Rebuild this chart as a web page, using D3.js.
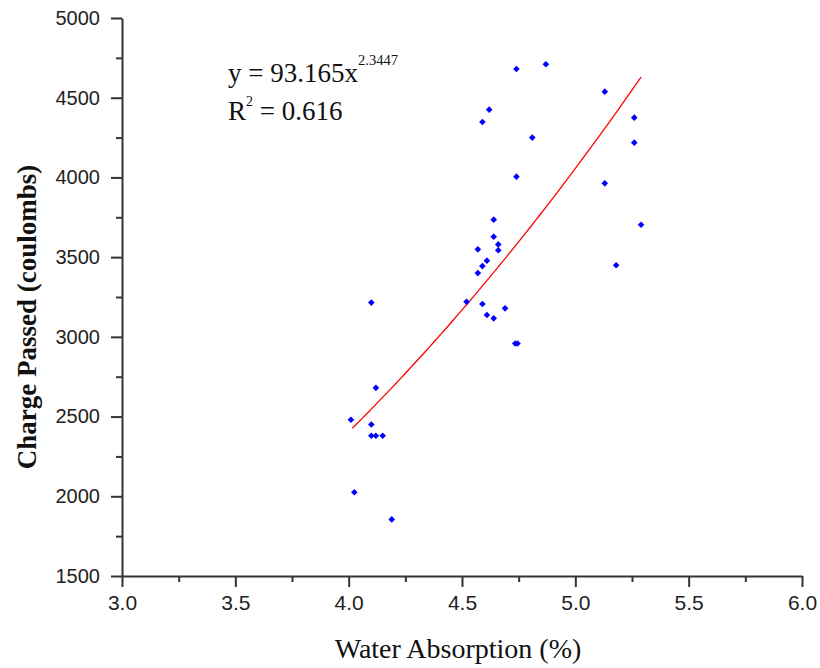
<!DOCTYPE html>
<html>
<head>
<meta charset="utf-8">
<script src="https://cdn.jsdelivr.net/npm/d3@7"></script>
<style>
  html, body { margin: 0; padding: 0; background: #fff; }
  svg { display: block; }
</style>
</head>
<body>
<script>
// ---- data ----
const waterAbsorption = [4.10, 4.12, 4.01, 4.10, 4.10, 4.12, 4.15, 4.025, 4.19,
  4.74, 4.87, 4.62, 4.59, 4.81, 4.74, 4.64, 4.64, 4.66, 4.66, 4.57, 4.61, 4.59, 4.57,
  4.52, 4.59, 4.69, 4.61, 4.64, 4.735, 4.745,
  5.13, 5.26, 5.26, 5.13, 5.29, 5.18];
const chargePassed = [3215, 2680, 2480, 2450, 2380, 2380, 2380, 2025, 1855,
  4680, 4710, 4425, 4348, 4250, 4005, 3735, 3628, 3580, 3543, 3549, 3478, 3444, 3400,
  3220, 3206, 3179, 3137, 3116, 2958, 2958,
  4538, 4375, 4218, 3963, 3703, 3449];
const xTicks = [3.0, 3.5, 4.0, 4.5, 5.0, 5.5, 6.0];
const xMinorTicks = [3.25, 3.75, 4.25, 4.75, 5.25, 5.75];
const yTicks = [1500, 2000, 2500, 3000, 3500, 4000, 4500, 5000];
const yMinorTicks = [1750, 2250, 2750, 3250, 3750, 4250, 4750];
const fitCoef = [93.165, 2.3447];   // y = a * x^b
const fitRange = [4.016, 5.29];
const fitR2 = [0.616];

// ---- layout ----
const W = 820, H = 668;
const mLeft = 122, mRight = 802, mTop = 18, mBottom = 576;

const svg = d3.select("body").append("svg").attr("width", W).attr("height", H);

const x = d3.scaleLinear().domain([3, 6]).range([mLeft, mRight]);
const y = d3.scaleLinear().domain([1500, 5000]).range([mBottom, mTop]);

const axisColor = "#333";
const labelFont = "'Liberation Sans', Arial, sans-serif";
const serif = "'Liberation Serif', 'Times New Roman', serif";

function styleAxis(g) {
  g.selectAll("path, line").attr("stroke", axisColor).attr("stroke-width", 2);
  g.selectAll("text").attr("fill", "#222").style("font-family", labelFont).style("font-size", "20px");
}

// minor ticks
svg.append("g").attr("transform", `translate(0,${mBottom})`)
  .call(d3.axisBottom(x).tickValues(xMinorTicks).tickSize(6).tickFormat(""))
  .call(g => g.select(".domain").remove())
  .call(styleAxis);
svg.append("g").attr("transform", `translate(${mLeft},0)`)
  .call(d3.axisLeft(y).tickValues(yMinorTicks).tickSize(6).tickFormat(""))
  .call(g => g.select(".domain").remove())
  .call(styleAxis);

// major axes
svg.append("g").attr("transform", `translate(0,${mBottom})`)
  .call(d3.axisBottom(x).tickValues(xTicks).tickSize(11).tickSizeOuter(0).tickPadding(8).tickFormat(d3.format(".1f")))
  .call(styleAxis)
  .call(g => g.selectAll("text").style("font-size", "21px"));
svg.append("g").attr("transform", `translate(${mLeft},0)`)
  .call(d3.axisLeft(y).tickValues(yTicks).tickSize(11).tickSizeOuter(0).tickPadding(11).tickFormat(d3.format("d")))
  .call(styleAxis);

// axis titles
svg.append("text")
  .attr("x", 458).attr("y", 658)
  .attr("text-anchor", "middle")
  .style("font-family", serif).style("font-size", "28px").attr("fill", "#111")
  .text("Water Absorption (%)");

svg.append("text")
  .attr("transform", "translate(36,317) rotate(-90)")
  .attr("text-anchor", "middle")
  .style("font-family", serif).style("font-size", "27px").style("font-weight", "bold").attr("fill", "#111")
  .text("Charge Passed (coulombs)");

// fit curve
const fitXs = d3.range(fitRange[0], fitRange[1] + 1e-9, (fitRange[1] - fitRange[0]) / 60);
const line = d3.line().x(d => x(d)).y(d => y(fitCoef[0] * Math.pow(d, fitCoef[1])));
svg.append("path")
  .datum(fitXs)
  .attr("d", line)
  .attr("fill", "none")
  .attr("stroke", "#ff0000")
  .attr("stroke-width", 1.3);

// points
const sym = d3.symbol().type(d3.symbolSquare).size(22);
svg.append("g").selectAll("path")
  .data(waterAbsorption.map((d, i) => [d, chargePassed[i]]))
  .join("path")
  .attr("transform", d => `translate(${x(d[0])},${y(d[1])}) rotate(45)`)
  .attr("d", sym)
  .attr("fill", "#0000ff");

// equation
const eq = svg.append("text")
  .attr("x", 228).attr("y", 82)
  .style("font-family", serif).style("font-size", "27px").attr("fill", "#111");
eq.append("tspan").text(`y = ${fitCoef[0]}x`);
eq.append("tspan").attr("dy", -17).style("font-size", "14px")
  .attr("textLength", 40).attr("lengthAdjust", "spacingAndGlyphs")
  .text(String(fitCoef[1]));

const r2 = svg.append("text")
  .attr("x", 228).attr("y", 120)
  .style("font-family", serif).style("font-size", "27px").attr("fill", "#111");
r2.append("tspan").text("R");
r2.append("tspan").attr("dy", -14).style("font-size", "14px").text("2");
r2.append("tspan").attr("dy", 14).text(` = ${fitR2[0]}`);
</script>
</body>
</html>
